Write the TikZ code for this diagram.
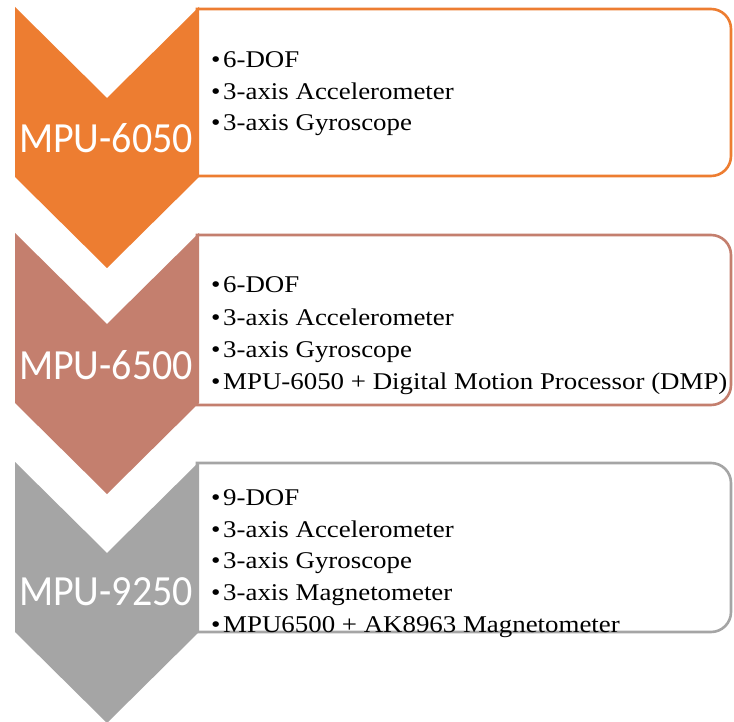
\documentclass[tikz,border=0pt]{standalone}
\usepackage{fontspec}
\setmainfont{Liberation Serif}
\newfontfamily\labfont[FakeStretch=0.93]{Carlito}
\newfontfamily\itemfont[FakeStretch=1.12]{Liberation Serif}
\definecolor{cA}{HTML}{ED7D31}
\definecolor{cB}{HTML}{C47F6E}
\definecolor{cC}{HTML}{A5A5A5}
\newcommand{\bul}{\makebox[12pt][l]{•}}
\tikzset{
  boxline/.style={line width=2.6pt, fill=white},
  lab/.style={text=white, inner sep=0pt, anchor=center, font=\labfont\fontsize{43}{43}\selectfont},
  item/.style={text=black, inner sep=0pt, anchor=base west, font=\itemfont\fontsize{24}{29}\selectfont}
}
\begin{document}
\begin{tikzpicture}[x=1pt,y=-1pt]
\useasboundingbox (0,0) rectangle (734,722);
\fill[white] (0,0) rectangle (734,722);
% boxes
\draw[boxline, draw=cA] (197,9) -- (711,9) arc[start angle=-90,end angle=0,radius=20] -- (731,156) arc[start angle=0,end angle=90,radius=20] -- (197,176) -- cycle;
\draw[boxline, draw=cB] (197,235) -- (711,235) arc[start angle=-90,end angle=0,radius=20] -- (731,385) arc[start angle=0,end angle=90,radius=20] -- (197,405) -- cycle;
\draw[boxline, draw=cC] (197,463) -- (711,463) arc[start angle=-90,end angle=0,radius=20] -- (731,612) arc[start angle=0,end angle=90,radius=20] -- (197,632) -- cycle;
% chevrons
\fill[cA] (15,7) -- (107,98) -- (199,7) -- (199,177) -- (107,268) -- (15,177) -- cycle;
\fill[cB] (15,233) -- (107,324) -- (199,233) -- (199,403) -- (107,494) -- (15,403) -- cycle;
\fill[cC] (15,462) -- (107,553) -- (199,462) -- (199,632) -- (107,723) -- (15,632) -- cycle;
% labels
\node[lab] (l1) at (106,138) {MPU-6050};
\node[lab] (l2) at (106,365) {MPU-6500};
\node[lab] (l3) at (106,592) {MPU-9250};
% items box 1
\node[item] (a1) at (211,68) {\bul 6-DOF};
\node[item] (a2) at (211,100) {\bul 3-axis Accelerometer};
\node[item] (a3) at (211,131) {\bul 3-axis Gyroscope};
% items box 2
\node[item] (b1) at (211,293) {\bul 6-DOF};
\node[item] (b2) at (211,325) {\bul 3-axis Accelerometer};
\node[item] (b3) at (211,357) {\bul 3-axis Gyroscope};
\node[item] (b4) at (211,389) {\bul MPU-6050 + Digital Motion Processor (DMP)};
% items box 3
\node[item] (c1) at (211,505) {\bul 9-DOF};
\node[item] (c2) at (211,537) {\bul 3-axis Accelerometer};
\node[item] (c3) at (211,568) {\bul 3-axis Gyroscope};
\node[item] (c4) at (211,600) {\bul 3-axis Magnetometer};
\node[item] (c5) at (211,632) {\bul MPU6500 + AK8963 Magnetometer};
\end{tikzpicture}
\end{document}
